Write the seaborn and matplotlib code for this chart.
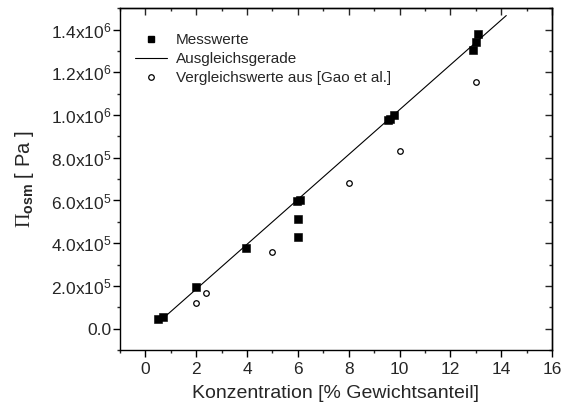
import matplotlib
matplotlib.use("Agg")
import numpy as np
import pandas as pd
import matplotlib.pyplot as plt
import seaborn as sns
from matplotlib.lines import Line2D
from matplotlib.ticker import MultipleLocator, FixedLocator

# Gemessene osmotische Drücke
mess_konz = [0.5, 0.7, 2.0, 3.95, 5.95, 6.1, 6.0, 6.0, 9.55, 9.62, 9.8, 12.9, 13.0, 13.1]
mess_druck = [0.47e5, 0.53e5, 1.94e5, 3.78e5, 5.98e5, 6.03e5, 5.14e5, 4.27e5,
              9.75e5, 9.8e5, 9.99e5, 13.04e5, 13.42e5, 13.81e5]

# Vergleichswerte aus der Literatur (Gao et al.)
gao_konz = [2.0, 2.4, 5.0, 8.0, 10.0, 13.0]
gao_druck = [1.19e5, 1.66e5, 3.59e5, 6.8e5, 8.3e5, 11.53e5]

# Ausgleichsgerade
fit_steigung = 1.05e5
fit_achse = -0.25e5
fit_bereich = [0.7, 14.2]

x_ticks = [0, 2, 4, 6, 8, 10, 12, 14, 16]
y_ticks = [0, 2e5, 4e5, 6e5, 8e5, 1.0e6, 1.2e6, 1.4e6]
y_tick_labels = ["0.0", r"2.0x10$^{5}$", r"4.0x10$^{5}$", r"6.0x10$^{5}$", r"8.0x10$^{5}$",
                 r"1.0x10$^{6}$", r"1.2x10$^{6}$", r"1.4x10$^{6}$"]

sns.set_style("ticks")
plt.rcParams["font.family"] = ["Liberation Sans", "DejaVu Sans"]
plt.rcParams["mathtext.fontset"] = "custom"
plt.rcParams["mathtext.rm"] = "Liberation Serif"
plt.rcParams["mathtext.sf"] = "Liberation Sans"
plt.rcParams["mathtext.bf"] = "Liberation Sans:bold"
plt.rcParams["mathtext.default"] = "regular"

mess = pd.DataFrame({"konz": mess_konz, "druck": mess_druck})
gao = pd.DataFrame({"konz": gao_konz, "druck": gao_druck})
fit_x = np.array(fit_bereich)
fit = pd.DataFrame({"konz": fit_x, "druck": fit_steigung * fit_x + fit_achse})

fig = plt.figure(figsize=(5.63, 4.08), dpi=100)
ax = fig.add_axes([0.2131, 0.1422, 0.7674, 0.8375])

sns.lineplot(data=fit, x="konz", y="druck", ax=ax, color="black", linewidth=0.8,
             zorder=2, legend=False)
sns.scatterplot(data=mess, x="konz", y="druck", ax=ax, marker="s", s=26,
                color="black", edgecolor="black", linewidth=0.4, zorder=3, legend=False)
sns.scatterplot(data=gao, x="konz", y="druck", ax=ax, marker="o", s=16,
                facecolor="white", edgecolor="black", linewidth=0.9, zorder=3, legend=False)

ax.set_xlim(-1, 16)
ax.set_ylim(-1e5, 1.5e6)
ax.xaxis.set_major_locator(FixedLocator(x_ticks))
ax.xaxis.set_minor_locator(MultipleLocator(1))
ax.yaxis.set_major_locator(FixedLocator(y_ticks))
ax.yaxis.set_minor_locator(MultipleLocator(1e5))
ax.set_yticklabels(y_tick_labels)
ax.tick_params(axis="both", which="major", direction="out", length=4.8, width=1.0,
               labelsize=12.5, color="black")
ax.tick_params(axis="both", which="minor", direction="out", length=2.4, width=1.0)
ax.tick_params(axis="x", which="major", pad=3.5)
ax.tick_params(axis="y", which="major", pad=1.5)
for sp in ax.spines.values():
    sp.set_linewidth(1.0)
    sp.set_color("black")

# Gespiegelte Teilstriche oben und rechts, nach innen gerichtet
top = ax.secondary_xaxis("top")
top.xaxis.set_major_locator(FixedLocator(x_ticks))
top.xaxis.set_minor_locator(MultipleLocator(1))
top.tick_params(which="major", direction="in", length=4.8, width=1.0, labeltop=False)
top.tick_params(which="minor", direction="in", length=2.4, width=1.0)
top.spines["top"].set_linewidth(1.0)
right = ax.secondary_yaxis("right")
right.yaxis.set_major_locator(FixedLocator(y_ticks))
right.yaxis.set_minor_locator(MultipleLocator(1e5))
right.tick_params(which="major", direction="in", length=4.8, width=1.0, labelright=False)
right.tick_params(which="minor", direction="in", length=2.4, width=1.0)
right.spines["right"].set_linewidth(1.0)

ax.set_xlabel("Konzentration [% Gewichtsanteil]", fontsize=14)
ax.set_ylabel(r"$\mathrm{\Pi}_{\mathbf{osm}}$ [ Pa ]", fontsize=14.5)
ax.xaxis.set_label_coords(0.5, -0.102)
ax.yaxis.set_label_coords(-0.195, 0.5)

handles = [
    Line2D([], [], linestyle="none", marker="s", markersize=5, color="black"),
    Line2D([], [], color="black", linewidth=0.8),
    Line2D([], [], linestyle="none", marker="o", markersize=4, markerfacecolor="white",
           markeredgecolor="black", markeredgewidth=0.9),
]
labels = ["Messwerte", "Ausgleichsgerade", "Vergleichswerte aus [Gao et al.]"]
ax.legend(handles, labels, loc="upper left", bbox_to_anchor=(0.035, 0.927),
          frameon=False, fontsize=11, borderpad=0, borderaxespad=0,
          handlelength=2.1, handletextpad=0.55, labelspacing=0.33, numpoints=1)

fig.savefig("out.png", dpi=100)
